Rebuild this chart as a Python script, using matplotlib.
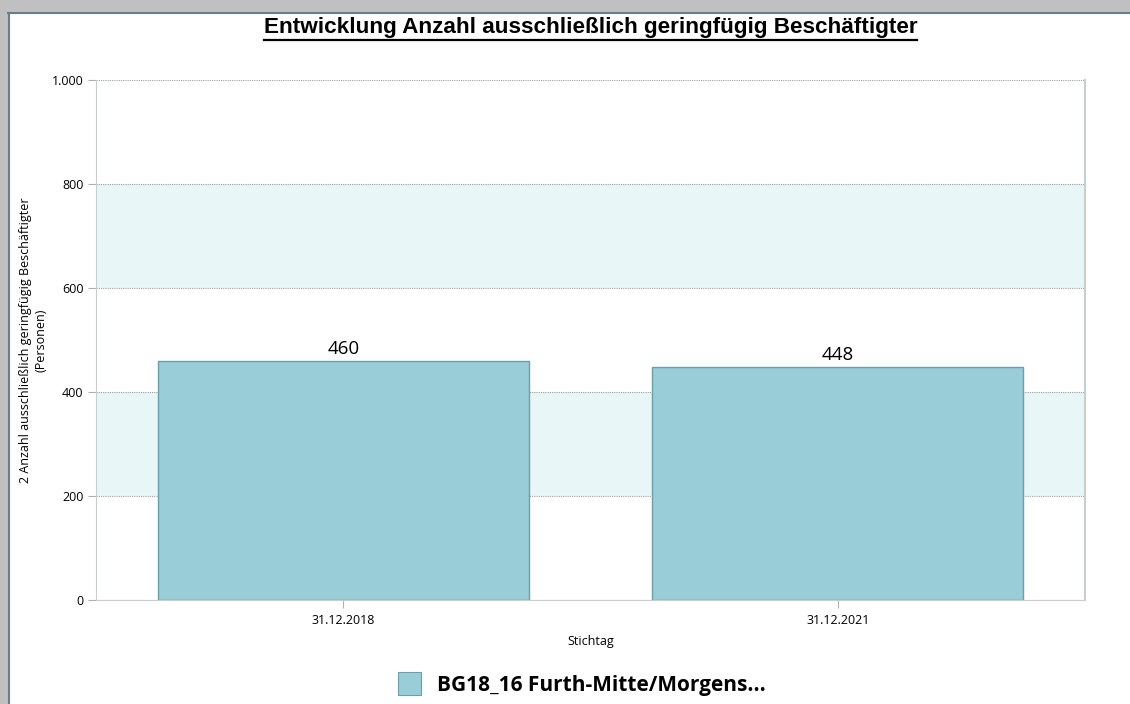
import matplotlib.pyplot as plt
from matplotlib.patches import Rectangle
from matplotlib.lines import Line2D
from matplotlib.ticker import FuncFormatter

# Daten
stichtage = ['31.12.2018', '31.12.2021']
anzahl = [460, 448]
serie = 'BG18_16 Furth-Mitte/Morgens...'
baender = [(200, 400), (600, 800)]
y_ticks = [0, 200, 400, 600, 800, 1000]

bar_color = '#99cdd7'
edge_color = '#6e9ea6'
tick_font = 'Open Sans'

W, H = 1130, 704
fig = plt.figure(figsize=(W / 100, H / 100), dpi=100)
fig.patch.set_facecolor('white')

# Fensterrahmen (grau oben/links)
fig.patches.append(Rectangle((0, 1 - 12 / H), 1, 12 / H, transform=fig.transFigure,
                             facecolor='#c0c0c0', edgecolor='none', zorder=0))
fig.patches.append(Rectangle((0, 0), 8 / W, 1, transform=fig.transFigure,
                             facecolor='#c0c0c0', edgecolor='none', zorder=0))
fig.lines.append(Line2D([8 / W, 1], [1 - 12.5 / H, 1 - 12.5 / H], transform=fig.transFigure,
                        color='#6b7c8a', lw=1.5))
fig.lines.append(Line2D([8.5 / W, 8.5 / W], [0, 1 - 12.5 / H], transform=fig.transFigure,
                        color='#6b7c8a', lw=1.5))

ax = fig.add_axes([96 / W, 1 - 600 / H, (1085 - 96) / W, (600 - 80) / H])

for lo, hi in baender:
    ax.axhspan(lo, hi, color='#e9f6f8', zorder=0, lw=0)

x = list(range(len(stichtage)))
bars = ax.bar(x, anzahl, width=0.75, color=bar_color, edgecolor=edge_color, linewidth=1, zorder=3)
for b, v in zip(bars, anzahl):
    ax.text(b.get_x() + b.get_width() / 2, v + 6, str(v), ha='center', va='bottom',
            fontsize=13.5, family=tick_font, zorder=4)

ax.set_xlim(-0.5, 1.5)
ax.set_ylim(0, 1000)
ax.set_yticks(y_ticks)
ax.yaxis.set_major_formatter(FuncFormatter(lambda v, p: f'{int(v):,}'.replace(',', '.')))
ax.set_xticks(x)
ax.set_xticklabels(stichtage)

ax.grid(axis='y', color='#a0a0a0', linestyle=(0, (1, 1)), linewidth=0.8, zorder=1)
ax.grid(axis='x', visible=False)
for t in ax.get_yticklabels() + ax.get_xticklabels():
    t.set_fontfamily(tick_font)
    t.set_fontsize(9)
ax.tick_params(axis='y', length=6, color='#b0b0b0', width=0.8, pad=3)
ax.tick_params(axis='x', length=6, color='#b0b0b0', width=0.8, pad=4)

ax.spines['top'].set_visible(False)
ax.spines['left'].set_color('#c8cdd2')
ax.spines['bottom'].set_color('#c8cdd2')
ax.spines['right'].set_color('#c8cdd2')
ax.spines['right'].set_linewidth(1.5)

ax.set_xlabel('Stichtag', family=tick_font, fontsize=9, labelpad=6)
ax.set_ylabel('2 Anzahl ausschließlich geringfügig Beschäftigter\n(Personen)',
              family=tick_font, fontsize=9, labelpad=3, linespacing=1.3)

# Titel mit Unterstreichung
title = fig.text((96 + 1085) / 2 / W, 1 - 28 / H,
                 'Entwicklung Anzahl ausschließlich geringfügig Beschäftigter',
                 ha='center', va='center', fontsize=16.2, fontweight='bold',
                 family='Liberation Sans')
fig.canvas.draw()
bb = title.get_window_extent().transformed(fig.transFigure.inverted())
fig.lines.append(Line2D([bb.x0, bb.x1], [bb.y0 - 1 / H, bb.y0 - 1 / H], transform=fig.transFigure,
                        color='black', lw=1.6))

# Legende
fig.legend(handles=[Rectangle((0, 0), 1, 1, facecolor=bar_color, edgecolor=edge_color, lw=0.8)],
           labels=[serie], loc='center', bbox_to_anchor=(582 / W, 1 - 684 / H),
           frameon=False, prop={'family': 'Open Sans', 'weight': 'bold', 'size': 15},
           handlelength=1.1, handleheight=1.3, handletextpad=0.8)

fig.savefig('out.png', dpi=100)
